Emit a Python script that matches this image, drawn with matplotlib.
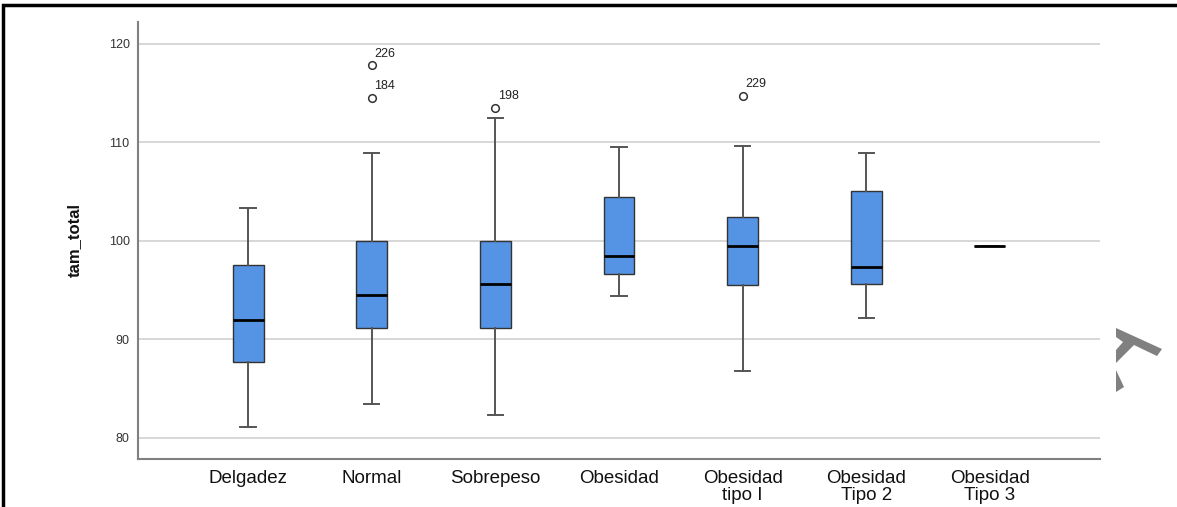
import matplotlib
matplotlib.use("Agg")
import matplotlib.pyplot as plt
from matplotlib.patches import Polygon
from matplotlib.lines import Line2D

plt.rcParams['font.family'] = ['Liberation Sans', 'DejaVu Sans']

# values
categorias = ["Delgadez", "Normal", "Sobrepeso", "Obesidad",
              "Obesidad\ntipo I", "Obesidad\nTipo 2", "Obesidad\nTipo 3"]
whisker_lo = [81.1, 83.4, 82.3, 94.4, 86.75, 92.2, 99.45]
q1 = [87.7, 91.1, 91.1, 96.65, 95.5, 95.6, 99.45]
mediana = [92.0, 94.45, 95.6, 98.45, 99.45, 97.3, 99.45]
q3 = [97.5, 100.0, 100.0, 104.4, 102.45, 105.0, 99.45]
whisker_hi = [103.35, 108.9, 112.45, 109.5, 109.6, 108.9, 99.45]
outliers = [[], [117.8, 114.5], [113.5], [], [114.7], [], []]
outlier_ids = [[], ["226", "184"], ["198"], [], ["229"], [], []]

W, H = 1177, 507
fig = plt.figure(figsize=(W / 100, H / 100), dpi=100)
ax = fig.add_axes([138 / W, 1 - 459 / H, (1100 - 138) / W, (459 - 22) / H])

stats = []
for i in range(len(categorias)):
    stats.append(dict(whislo=whisker_lo[i], q1=q1[i], med=mediana[i],
                      q3=q3[i], whishi=whisker_hi[i], fliers=outliers[i]))

pos = list(range(len(categorias)))
ax.bxp(stats, positions=pos, widths=0.25, patch_artist=True,
       boxprops=dict(facecolor="#5594e4", edgecolor="#333333", linewidth=1.0),
       medianprops=dict(color="black", linewidth=2.0),
       whiskerprops=dict(color="#555555", linewidth=1.4),
       capprops=dict(color="#555555", linewidth=1.4),
       capwidths=0.125,
       flierprops=dict(marker="o", markersize=5.5, markerfacecolor="white",
                       markeredgecolor="#333333", markeredgewidth=1.1),
       zorder=3)

for i in pos:
    for v, lab in zip(outliers[i], outlier_ids[i]):
        ax.annotate(lab, (i, v), xytext=(2, 4), textcoords="offset points",
                    fontsize=9, color="#222222", ha="left", va="bottom")

ax.set_xlim(-0.89, 6.89)
ax.set_ylim(77.85, 122.2)
ax.set_yticks([80, 90, 100, 110, 120])
ax.set_xticks(pos)
ax.set_xticklabels(categorias, fontsize=13.5, color="#111111", linespacing=1.0)
ax.tick_params(axis="x", length=0, pad=8)
ax.tick_params(axis="y", length=0, pad=6, labelsize=9, labelcolor="#333333")
ax.grid(axis="y", color="#d4d4d4", linewidth=1.3, zorder=0)
ax.set_axisbelow(True)
for s in ["top", "right"]:
    ax.spines[s].set_visible(False)
for s in ["left", "bottom"]:
    ax.spines[s].set_color("#808080")
    ax.spines[s].set_linewidth(1.5)

ax.set_ylabel("tam_total", fontsize=12, fontweight="bold", color="#111111")
ax.yaxis.set_label_coords((82 - 138) / (1100 - 138), (459 - 240) / (459 - 22))

# black frame of the screenshot (top and left)
fig.add_artist(Line2D([3 / W, 3 / W, 1.01], [0, 1 - 5 / H, 1 - 5 / H],
                      transform=fig.transFigure, color="black", linewidth=2.5,
                      solid_joinstyle="miter"))

# grey fragment on the right edge of the screenshot
def px(pts):
    return [(x / W, 1 - y / H) for x, y in pts]

fig.add_artist(Polygon(px([(1116, 328), (1162, 349), (1157, 356), (1134, 345),
                           (1116, 363), (1116, 350), (1123, 342), (1116, 337)]),
                       closed=True, transform=fig.transFigure,
                       facecolor="#808080", edgecolor="none"))
fig.add_artist(Polygon(px([(1116, 370), (1124, 387), (1116, 392)]), closed=True,
                       transform=fig.transFigure, facecolor="#808080", edgecolor="none"))

fig.savefig("out.png", dpi=100)
